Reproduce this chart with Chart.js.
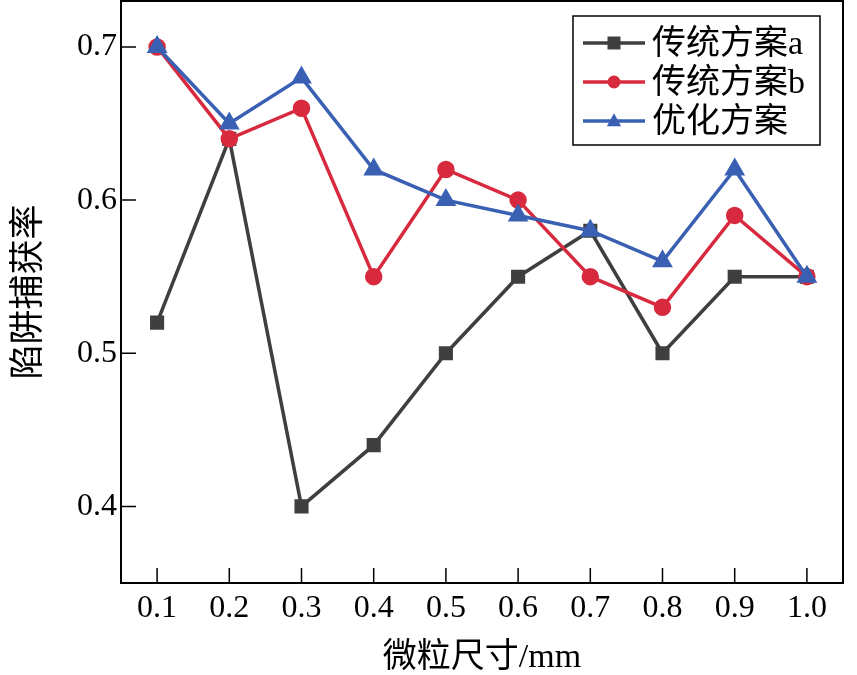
<!DOCTYPE html>
<html>
<head>
<meta charset="utf-8">
<script src="https://cdn.jsdelivr.net/npm/chart.js@4"></script>
<style>
  html, body { margin: 0; padding: 0; background: #fff; }
  #wrap { width: 857px; height: 675px; }
</style>
</head>
<body>
<div id="wrap"><canvas id="grafico"></canvas></div>
<script>
// dados
const tamanhos = [0.1, 0.2, 0.3, 0.4, 0.5, 0.6, 0.7, 0.8, 0.9, 1.0];
const serieA = [0.52, 0.64, 0.40, 0.44, 0.50, 0.55, 0.58, 0.50, 0.55, 0.55];
const serieB = [0.70, 0.64, 0.66, 0.55, 0.62, 0.60, 0.55, 0.53, 0.59, 0.55];
const serieOtim = [0.70, 0.65, 0.68, 0.62, 0.60, 0.59, 0.58, 0.56, 0.62, 0.55];
const nomes = ["传统方案a", "传统方案b", "优化方案"];
const ticksY = [0.4, 0.5, 0.6, 0.7];

const fonteNum = "'Liberation Serif', 'Noto Sans CJK SC', serif";
const fonteCjk = "'Liberation Serif', 'Noto Sans CJK SC', serif";

function pontos(ys) {
  return tamanhos.map((x, i) => ({ x: x, y: ys[i] }));
}

function semPadding(s) {
  s.paddingTop = 0;
  s.paddingBottom = 0;
  s.paddingLeft = 0;
  s.paddingRight = 0;
}

// moldura, ticks internos e legenda
const molduraPlugin = {
  id: "moldura",
  afterDraw(chart) {
    const { ctx, chartArea: a, scales } = chart;
    ctx.save();
    ctx.strokeStyle = "#000";
    ctx.lineWidth = 2;
    ctx.strokeRect(a.left, a.top, a.right - a.left, a.bottom - a.top);
    ctx.lineWidth = 1.5;
    ctx.beginPath();
    tamanhos.forEach((v) => {
      const px = scales.x.getPixelForValue(v);
      ctx.moveTo(px, a.bottom);
      ctx.lineTo(px, a.bottom - 15);
    });
    ticksY.forEach((v) => {
      const py = scales.y.getPixelForValue(v);
      ctx.moveTo(a.left, py);
      ctx.lineTo(a.left + 15, py);
    });
    ctx.stroke();

    // legenda
    const bx = 573, by = 16, bw = 247, bh = 129;
    ctx.fillStyle = "#fff";
    ctx.fillRect(bx, by, bw, bh);
    ctx.lineWidth = 1.5;
    ctx.strokeRect(bx, by, bw, bh);
    ctx.font = "34px " + fonteCjk;
    ctx.textBaseline = "middle";
    chart.data.datasets.forEach((ds, i) => {
      const yy = by + 27 + i * 39;
      ctx.strokeStyle = ds.borderColor;
      ctx.lineWidth = 3.5;
      ctx.beginPath();
      ctx.moveTo(583, yy);
      ctx.lineTo(645, yy);
      ctx.stroke();
      ctx.fillStyle = ds.backgroundColor;
      const cx = 614, r = 6.5;
      ctx.beginPath();
      if (ds.pointStyle === "rect") {
        ctx.rect(cx - r, yy - r, 2 * r, 2 * r);
      } else if (ds.pointStyle === "triangle") {
        ctx.moveTo(cx, yy - r * 1.2);
        ctx.lineTo(cx + r * 1.1, yy + r * 0.8);
        ctx.lineTo(cx - r * 1.1, yy + r * 0.8);
        ctx.closePath();
      } else {
        ctx.arc(cx, yy, r, 0, Math.PI * 2);
      }
      ctx.fill();
      ctx.fillStyle = "#000";
      ctx.textAlign = "left";
      ctx.fillText(ds.label, 652, yy + 2);
    });
    ctx.restore();
  },
};

const ctxG = document.querySelector("#grafico");

new Chart(ctxG, {
  type: "line",
  data: {
    datasets: [
      {
        label: nomes[0],
        data: pontos(serieA),
        borderColor: "#3f3f3f",
        backgroundColor: "#3f3f3f",
        pointStyle: "rect",
        pointRadius: 7.5,
        borderWidth: 3.5,
        order: 3,
      },
      {
        label: nomes[1],
        data: pontos(serieB),
        borderColor: "#d82a3e",
        backgroundColor: "#d82a3e",
        pointStyle: "circle",
        pointRadius: 7,
        borderWidth: 3.5,
        order: 2,
      },
      {
        label: nomes[2],
        data: pontos(serieOtim),
        borderColor: "#3a60b3",
        backgroundColor: "#3a60b3",
        pointStyle: "triangle",
        pointRadius: 8.5,
        borderWidth: 3.5,
        order: 1,
      },
    ],
  },
  options: {
    responsive: true,
    maintainAspectRatio: false,
    animation: false,
    layout: { autoPadding: false, padding: { top: 1, right: 14, left: 0, bottom: 0 } },
    plugins: { legend: { display: false }, tooltip: { enabled: false } },
    elements: { line: { tension: 0 }, point: { borderWidth: 0 } },
    scales: {
      x: {
        type: "linear",
        min: 0.05,
        max: 1.05,
        afterBuildTicks: (s) => { s.ticks = tamanhos.map((v) => ({ value: v })); },
        afterFit: (s) => { s.height = 92; semPadding(s); },
        grid: { display: false },
        border: { display: false },
        ticks: {
          color: "#000",
          font: { family: fonteNum, size: 32 },
          padding: -2,
          callback: (v) => v.toFixed(1),
        },
        title: {
          display: true,
          text: "微粒尺寸/mm",
          color: "#000",
          font: { family: fonteCjk, size: 34 },
          padding: { top: 0, bottom: -3 },
        },
      },
      y: {
        min: 0.35,
        max: 0.73,
        afterBuildTicks: (s) => { s.ticks = ticksY.map((v) => ({ value: v })); },
        afterFit: (s) => { s.width = 121; semPadding(s); },
        grid: { display: false },
        border: { display: false },
        ticks: {
          color: "#000",
          font: { family: fonteNum, size: 32 },
          padding: -4,
          callback: (v) => v.toFixed(1),
        },
        title: {
          display: true,
          text: "陷阱捕获率",
          color: "#000",
          font: { family: fonteCjk, size: 35 },
          padding: { top: 9, bottom: 0 },
        },
      },
    },
  },
  plugins: [molduraPlugin],
});
</script>
</body>
</html>
